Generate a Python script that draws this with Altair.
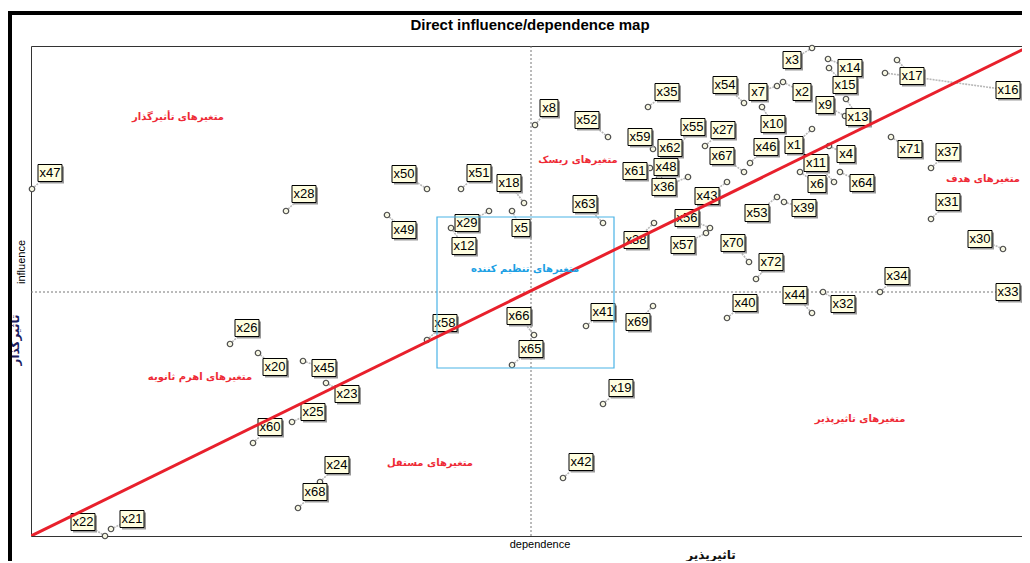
import altair as alt
import pandas as pd

names = [f"x{i}" for i in range(1, 73)]
dependence = [781, 752, 781, 798, 481, 769, 746, 504, 814, 731,
              803, 420, 815, 797, 798, 854, 866, 493, 572, 227,
              80, 74, 295, 289, 261, 199, 674, 255, 458, 972,
              900, 792, 999, 849, 617, 657, 900, 623, 753, 696,
              555, 532, 696, 781, 272, 719, 1, 628, 356, 396,
              430, 577, 746, 713, 639, 679, 675, 396, 622, 222,
              619, 627, 572, 809, 481, 503, 713, 267, 622, 718,
              860, 725]
influence = [407, 454, 488, 390, 325, 364, 450, 411, 420, 429,
             354, 308, 437, 477, 468, 463, 476, 333, 132, 183,
             7, 0, 153, 54, 114, 192, 390, 325, 325, 287,
             317, 244, 228, 244, 429, 359, 368, 313, 334, 218,
             210, 58, 354, 223, 175, 373, 347, 358, 321, 347,
             347, 399, 339, 433, 377, 308, 303, 196, 387, 93,
             368, 369, 313, 364, 171, 201, 364, 28, 230, 274,
             399, 257]
# where each name tag sits on the map
label_dependence = [763, 771, 761, 815, 490, 786, 727, 518, 794, 742,
                    785, 433, 827, 819, 814, 977, 881, 478, 590, 244,
                    101, 52, 316, 306, 282, 216, 692, 273, 436, 949,
                    917, 812, 977, 866, 636, 633, 917, 605, 773, 714,
                    572, 550, 676, 764, 293, 735, 19, 635, 373, 373,
                    448, 556, 726, 694, 662, 656, 652, 414, 609, 239,
                    604, 639, 554, 831, 500, 488, 691, 284, 607, 702,
                    879, 740]
label_influence = [391, 444, 476, 382, 308, 352, 444, 428, 431, 412,
                   373, 290, 419, 468, 451, 446, 460, 353, 148, 169,
                   17, 14, 142, 71, 124, 208, 406, 342, 313, 297,
                   334, 232, 244, 260, 444, 349, 384, 296, 328, 233,
                   224, 74, 340, 241, 168, 389, 363, 369, 306, 362,
                   363, 416, 323, 451, 409, 318, 291, 213, 399, 109,
                   365, 388, 332, 353, 187, 220, 380, 44, 214, 293,
                   387, 274]

# zone captions
zone_text = ["متغیرهای تأثیرگذار", "متغیرهای ریسک", "متغیرهای هدف",
             "متغیرهای اهرم ثانویه", "متغیرهای مستقل", "متغیرهای تاثیرپذیر"]
zone_dep = [147, 547, 952, 169, 399, 829]
zone_inf = [419, 376, 357, 159, 73, 117]
reg_text = ["متغیرهای تنظیم کننده"]
reg_dep = [494]
reg_inf = [267]
reg_d0, reg_d1, reg_i0, reg_i1 = [406], [583], [168], [319]
mean_dep = [500]
mean_inf = [244]
diag_dep = [0, 999]
diag_inf = [0, 490]

W, H = 991, 490
xs = alt.Scale(domain=[0, W], nice=False, zero=False)
ys = alt.Scale(domain=[0, H], nice=False, zero=False)

df = pd.DataFrame({"name": names, "dep": dependence, "inf": influence,
                   "ldep": label_dependence, "linf": label_influence})
df2 = df[df["name"].str.len() == 2]
df3 = df[df["name"].str.len() == 3]

box3 = "M-1.2,-0.85L1.2,-0.85L1.2,0.85L-1.2,0.85Z"
box2 = "M-0.9,-0.85L0.9,-0.85L0.9,0.85L-0.9,0.85Z"

X = lambda f: alt.X(f"{f}:Q", scale=xs, axis=None)
Y = lambda f: alt.Y(f"{f}:Q", scale=ys, axis=None)

leaders = alt.Chart(df).mark_rule(color="#b8b8b8", strokeWidth=1.6, strokeDash=[2, 1]).encode(
    x=X("dep"), y=Y("inf"), x2="ldep:Q", y2="linf:Q")

dots = alt.Chart(df).mark_point(filled=True, fill="#f6f6e2", stroke="#4a4a4a", strokeWidth=1.2,
                                size=30, opacity=1).encode(x=X("dep"), y=Y("inf"))

def tagbox(d, path):
    sh = alt.Chart(d).mark_point(shape=path, filled=True, fill="#9a9a9a", size=400,
                                 xOffset=2, yOffset=2, opacity=1).encode(x=X("ldep"), y=Y("linf"))
    bx = alt.Chart(d).mark_point(shape=path, filled=True, fill="#fffee0", stroke="#000000",
                                 strokeWidth=1, size=400, opacity=1).encode(x=X("ldep"), y=Y("linf"))
    return sh, bx

sh2, bx2 = tagbox(df2, box2)
sh3, bx3 = tagbox(df3, box3)

tags = alt.Chart(df).mark_text(font="Liberation Sans", fontSize=13, color="#000000").encode(
    x=X("ldep"), y=Y("linf"), text="name:N")

vline = alt.Chart(pd.DataFrame({"d": mean_dep})).mark_rule(
    color="#777777", strokeDash=[2, 2], strokeWidth=1).encode(
    x=X("d"), y=alt.value(0), y2=alt.value(H))
hline = alt.Chart(pd.DataFrame({"i": mean_inf})).mark_rule(
    color="#777777", strokeDash=[2, 2], strokeWidth=1).encode(
    y=Y("i"), x=alt.value(0), x2=alt.value(W))

reg = alt.Chart(pd.DataFrame({"d0": reg_d0, "d1": reg_d1, "i0": reg_i0, "i1": reg_i1})).mark_rect(
    fillOpacity=0, stroke="#4ab3e6", strokeWidth=1.2).encode(
    x=X("d0"), x2="d1:Q", y=Y("i0"), y2="i1:Q")

diag = alt.Chart(pd.DataFrame({"d": diag_dep, "i": diag_inf})).mark_line(
    color="#e8202c", strokeWidth=3, clip=True).encode(x=X("d"), y=Y("i"))

zones = alt.Chart(pd.DataFrame({"t": zone_text, "d": zone_dep, "i": zone_inf})).mark_text(
    font="DejaVu Sans", fontSize=10, fontWeight="bold", color="#ee2a35").encode(
    x=X("d"), y=Y("i"), text="t:N")
regt = alt.Chart(pd.DataFrame({"t": reg_text, "d": reg_dep, "i": reg_inf})).mark_text(
    font="DejaVu Sans", fontSize=10, fontWeight="bold", color="#1c9fe4").encode(
    x=X("d"), y=Y("i"), text="t:N")

def label(txt, x, y, **kw):
    return alt.Chart(pd.DataFrame({"t": [txt]})).mark_text(**kw).encode(
        x=alt.value(x), y=alt.value(y), text="t:N")

title = label("Direct influence/dependence map", 499, -21, font="Liberation Sans",
              fontSize=15, fontWeight="bold", color="#000000")
xlab = label("dependence", 509, H + 9, font="Liberation Sans", fontSize=11, color="#000000")
ylab = label("influence", -9, 216, font="Liberation Sans", fontSize=11, color="#000000", angle=270)
xfa = label("تاثیرپذیر", 680, H + 19, font="DejaVu Sans", fontSize=12, fontWeight="bold", color="#111111")
yfa = label("تاثیرگذار", -16, 294, font="DejaVu Sans", fontSize=12, fontWeight="bold",
            color="#1a2060", angle=270)

frame_top = alt.Chart(pd.DataFrame({"a": [0]})).mark_rule(color="#000000", strokeWidth=4).encode(
    x=alt.value(-23), x2=alt.value(W + 10), y=alt.value(-33))
frame_left = alt.Chart(pd.DataFrame({"a": [0]})).mark_rule(color="#000000", strokeWidth=4).encode(
    x=alt.value(-21), y=alt.value(-35), y2=alt.value(H + 40))

chart = alt.layer(
    vline, hline, leaders, dots, sh2, sh3, bx2, bx3, tags, reg, diag, zones, regt,
    title, xlab, ylab, xfa, yfa, frame_top, frame_left
).properties(
    width=W, height=H,
    autosize=alt.AutoSizeParams(type="none"),
    padding={"left": 23, "top": 38, "right": 0, "bottom": 25},
).configure_view(stroke="#333333", strokeWidth=1)

chart.save("out.html", embed_options={"renderer": "svg", "actions": False})
